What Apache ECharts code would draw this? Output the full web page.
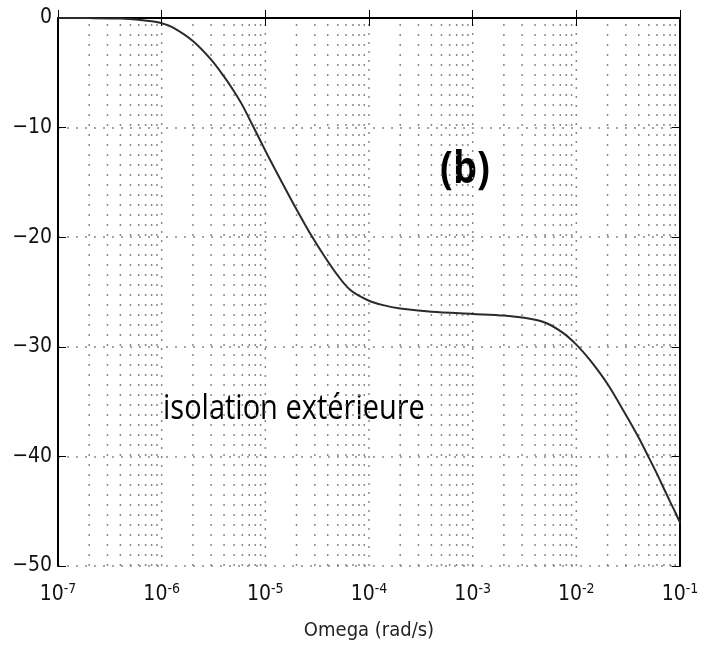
<!DOCTYPE html>
<html>
<head>
<meta charset="utf-8">
<script src="https://cdn.jsdelivr.net/npm/echarts@6/dist/echarts.min.js"></script>
<style>
html,body{margin:0;padding:0;background:#fff;}
#c{width:712px;height:646px;}
</style>
</head>
<body>
<div id="c"></div>
<script>
// Frequency (rad/s) and gain (dB)
var omega = [1e-7, 2e-7, 4e-7, 6e-7, 8e-7, 1e-6, 1.29e-6, 2e-6, 3e-6, 4e-6, 5e-6, 6e-6, 7.1e-6, 1e-5, 1.24e-5, 1.93e-5, 2.8e-5, 4.53e-5, 6.56e-5, 1e-4, 1.37e-4, 2e-4, 4e-4, 1e-3, 2e-3, 3.57e-3, 5.17e-3, 7.49e-3, 1e-2, 1.35e-2, 2e-2, 3e-2, 4e-2, 5e-2, 6e-2, 7e-2, 8e-2, 9e-2, 1e-1];
var gainDb = [0, -0.01, -0.05, -0.15, -0.3, -0.48, -0.88, -2.1, -3.8, -5.35, -6.7, -7.95, -9.3, -12.1, -13.8, -17.2, -19.9, -22.95, -24.8, -25.8, -26.2, -26.5, -26.8, -27.0, -27.15, -27.45, -27.85, -28.75, -29.8, -31.2, -33.4, -36.2, -38.3, -40.1, -41.6, -42.95, -44.1, -45.1, -46.05];
var yTicks = [0, -10, -20, -30, -40, -50];
var xDecades = [-7, -6, -5, -4, -3, -2, -1];
var annotationText = 'isolation extérieure';
var panelText = '(b)';
var xTitle = 'Omega (rad/s)';

var FONT = "'DejaVu Sans Condensed', 'DejaVu Sans', sans-serif";
var data = omega.map(function (w, i) { return [w, gainDb[i]]; });

// vertical dotted grid lines at 1..9 x 10^e (drawn through the log axis)
var gridSeries = [];
for (var e = xDecades[0]; e < xDecades[xDecades.length - 1]; e++) {
  for (var k = 1; k <= 9; k++) {
    if (k === 1 && e === xDecades[0]) continue;
    var v = k * Math.pow(10, e);
    gridSeries.push({
      type: 'line', data: [[v, yTicks[yTicks.length - 1]], [v, yTicks[0]]],
      showSymbol: false, silent: true, z: 1,
      lineStyle: {color: '#888', width: 1.5, type: k === 1 ? [2, 7] : [2, 8]}
    });
  }
}

var chart = echarts.init(document.getElementById('c'));
chart.setOption({
  animation: false,
  backgroundColor: '#fff',
  grid: {left: 58, right: 32, top: 18, bottom: 79},
  xAxis: [{
    type: 'log', logBase: 10, min: 1e-7, max: 1e-1, z: 5,
    axisLine: {show: true, lineStyle: {color: '#000', width: 2}},
    axisTick: {show: true, inside: true, length: 8, lineStyle: {color: '#000'}},
    splitLine: {show: false},
    axisLabel: {
      margin: 16,
      formatter: function (v) {
        var ex = Math.round(Math.log10(v));
        return '{b|10}{s|' + ex + '}';
      },
      rich: {
        b: {fontFamily: FONT, fontSize: 21, color: '#111'},
        s: {fontFamily: FONT, fontSize: 14, color: '#111', padding: [0, 0, 12, 0]}
      }
    },
    name: xTitle, nameLocation: 'middle', nameGap: 55,
    nameTextStyle: {fontFamily: FONT, fontSize: 20, color: '#222'}
  }, {
    type: 'log', logBase: 10, min: 1e-7, max: 1e-1, position: 'top', z: 5,
    axisLine: {show: true, lineStyle: {color: '#000', width: 2}},
    axisTick: {show: true, inside: true, length: 8, lineStyle: {color: '#000'}},
    axisLabel: {show: false}, splitLine: {show: false}
  }],
  yAxis: [{
    type: 'value', min: -50, max: 0, interval: 10, z: 5,
    axisLine: {show: true, lineStyle: {color: '#000', width: 2}},
    axisTick: {show: true, inside: true, length: 8, lineStyle: {color: '#000'}},
    axisLabel: {
      margin: 6, fontFamily: FONT, fontSize: 21, color: '#111',
      formatter: function (v) { return v < 0 ? '\u2212' + Math.abs(v) : String(v); }
    },
    splitLine: {show: true, lineStyle: {color: '#888', width: 1.5, type: [2, 7]}}
  }, {
    type: 'value', min: -50, max: 0, interval: 10, position: 'right', z: 5,
    axisLine: {show: true, lineStyle: {color: '#000', width: 2}},
    axisTick: {show: true, inside: true, length: 8, lineStyle: {color: '#000'}},
    axisLabel: {show: false}, splitLine: {show: false}
  }],
  series: gridSeries.concat([{
    type: 'line', data: data, showSymbol: false, smooth: 0.3,
    lineStyle: {color: '#2a2a2a', width: 2}, z: 6
  }]),
  graphic: [{
    type: 'text', left: 163, top: 392, scaleY: 1.2,
    style: {text: annotationText, fontFamily: "'Open Sans', sans-serif", fontSize: 29, fill: '#000'}
  }, {
    type: 'text', left: 440, top: 147, scaleY: 1.2,
    style: {text: panelText, fontFamily: "'Open Sans', sans-serif", fontWeight: 'bold', fontSize: 38, fill: '#000'}
  }]
});
</script>
</body>
</html>
